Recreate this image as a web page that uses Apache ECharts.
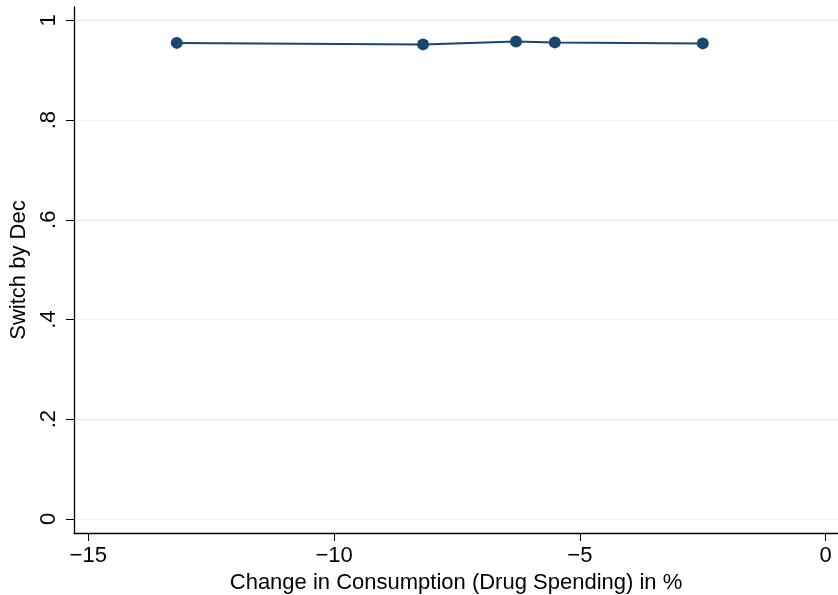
<!DOCTYPE html>
<html><head><meta charset="utf-8">
<script src="https://cdn.jsdelivr.net/npm/echarts@6/dist/echarts.min.js"></script>
<style>html,body{margin:0;padding:0;background:#fff}#c{width:838px;height:595px}</style>
</head><body><div id="c"></div>
<script>
const xValues = [-13.20, -8.19, -6.30, -5.51, -2.50];
const yValues = [0.955, 0.952, 0.958, 0.956, 0.954];
const xTicks = [-15, -10, -5, 0];
const yTicks = [0, 0.2, 0.4, 0.6, 0.8, 1];
const yTickLabels = ['0', '.2', '.4', '.6', '.8', '1'];
const xTitle = 'Change in Consumption (Drug Spending) in %';
const yTitle = 'Switch by Dec';

const chart = echarts.init(document.getElementById('c'), null, {renderer: 'canvas'});
const font = 'Liberation Sans, Arial, Helvetica, sans-serif';
chart.setOption({
  animation: false,
  backgroundColor: '#fff',
  grid: {left: 74, top: 7, right: 0, bottom: 62, containLabel: false, outerBoundsMode: 'none'},
  xAxis: {
    type: 'value', min: -15.29, max: 0.25,
    axisLine: {show: true, onZero: false, lineStyle: {color: '#000', width: 1.3}},
    axisTick: {show: true, length: 8, lineStyle: {color: '#000'}, customValues: xTicks},
    axisLabel: {customValues: xTicks, margin: 12, fontSize: 22, color: '#000', fontFamily: font,
      formatter: v => String(v).replace('-', '\u2212')},
    splitLine: {show: false},
    name: xTitle, nameLocation: 'middle', nameGap: 32,
    nameTextStyle: {fontSize: 22, color: '#000', fontFamily: font}
  },
  yAxis: {
    type: 'value', min: -0.0285, max: 1.027,
    axisLine: {show: true, onZero: false, lineStyle: {color: '#000', width: 1.3}},
    axisTick: {show: true, length: 8, lineStyle: {color: '#000'}, customValues: yTicks},
    axisLabel: {customValues: yTicks, rotate: 90, margin: 14, fontSize: 22, color: '#000', fontFamily: font,
      formatter: v => { const i = yTicks.findIndex(t => Math.abs(t - v) < 1e-6); return i >= 0 ? yTickLabels[i] : ''; }},
    splitLine: {show: false},
    name: yTitle, nameLocation: 'middle', nameGap: 36, nameRotate: 90,
    nameTextStyle: {fontSize: 22, color: '#000', fontFamily: font}
  },
  series: [{
    type: 'line',
    data: xValues.map((x, i) => [x, yValues[i]]),
    symbol: 'circle', symbolSize: 12,
    lineStyle: {color: '#1a476f', width: 2},
    itemStyle: {color: '#1a476f'},
    markLine: {
      silent: true, symbol: 'none', label: {show: false}, z: 0,
      lineStyle: {color: '#eaf2f3', width: 1.3, type: 'solid'},
      data: yTicks.map(t => ({yAxis: t}))
    },
    z: 3
  }]
});
</script></body></html>
